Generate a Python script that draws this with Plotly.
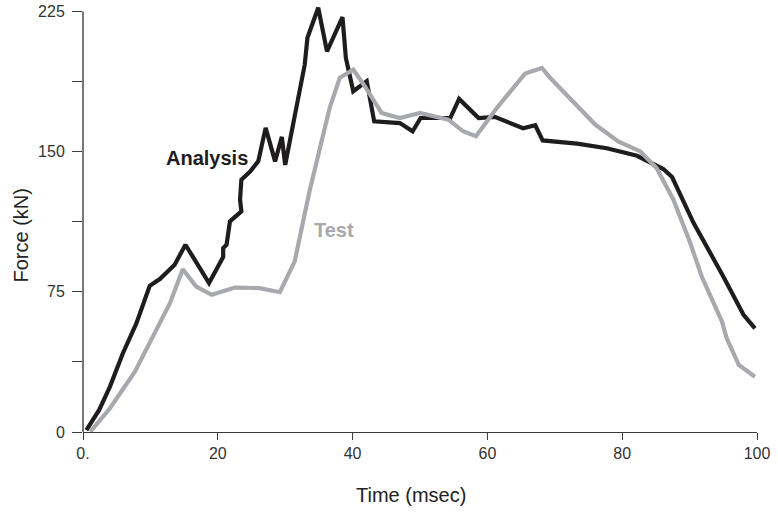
import plotly.graph_objects as go

# ---- data ----
analysis_time = [0.5, 2.4, 4.0, 5.9, 7.9, 9.9, 11.4, 13.6, 15.2, 18.7, 20.8, 20.8, 21.3, 21.8,
                 23.5, 23.3, 23.5, 24.8, 26.0, 27.1, 28.5, 29.5, 30.0, 32.9, 33.3, 34.9, 36.2,
                 38.5, 39.0, 40.1, 42.1, 43.2, 47.0, 48.9, 50.1, 54.5, 55.8, 58.7, 61.1, 63.3,
                 65.3, 67.1, 68.2, 73.3, 77.7, 82.2, 86.1, 87.4, 90.6, 95.0, 98.0, 99.7]
analysis_force = [1.0, 11.8, 24.3, 42.0, 58.0, 78.2, 81.8, 89.5, 100.2, 79.7, 93.6, 98.4, 100.2, 112.7,
                  118.0, 124.3, 135.0, 139.4, 144.8, 162.7, 144.8, 157.9, 142.9, 196.6, 210.9, 227.0, 203.7,
                  222.0, 200.2, 182.3, 187.7, 166.2, 165.3, 160.9, 168.0, 168.0, 178.2, 168.0, 168.6, 165.3,
                  162.5, 164.1, 156.0, 154.3, 151.8, 147.8, 140.7, 136.4, 111.8, 83.2, 62.7, 55.5]

test_time = [1.1, 4.0, 7.7, 11.1, 12.9, 14.8, 16.8, 19.1, 22.5, 26.2, 29.2, 31.4, 33.6, 36.6,
             38.1, 40.1, 41.8, 44.3, 47.0, 50.0, 54.2, 56.4, 58.3, 61.4, 65.6, 68.1, 69.3,
             76.0, 79.4, 82.7, 85.1, 87.6, 90.1, 91.8, 94.8, 95.5, 97.3, 99.7]
test_force = [0.2, 12.7, 32.3, 56.4, 68.9, 87.1, 77.8, 73.4, 77.3, 77.0, 74.8, 91.2, 128.7, 173.4,
              189.5, 193.9, 185.0, 170.7, 168.0, 170.7, 167.1, 160.9, 158.2, 173.4, 191.8, 194.8, 189.5,
              164.5, 155.5, 150.1, 141.3, 124.3, 101.1, 83.2, 59.1, 50.2, 35.9, 29.6]

x_tickvals = [0, 20, 40, 60, 80, 100]
x_ticktext = ["0.", "20", "40", "60", "80", "100"]
y_tickvals = [0, 37.5, 75, 112.5, 150, 187.5, 225]
y_ticktext = ["0", "", "75", "", "150", "", "225"]

BLACK = "#1f1c1d"
GRAY = "#a7a9ac"
AXIS = "#3c3c3c"
FONT = "Liberation Sans"

fig = go.Figure()
fig.add_trace(go.Scatter(x=analysis_time, y=analysis_force, mode="lines",
                         line=dict(color=BLACK, width=4.2), showlegend=False, hoverinfo="skip"))
fig.add_trace(go.Scatter(x=test_time, y=test_force, mode="lines",
                         line=dict(color=GRAY, width=4.2), showlegend=False, hoverinfo="skip"))

fig.update_layout(
    width=778, height=515,
    margin=dict(l=83, r=21, t=4, b=83),
    paper_bgcolor="white", plot_bgcolor="white",
    font=dict(family=FONT, color="#333333"),
    xaxis=dict(range=[0, 100], tickvals=x_tickvals, ticktext=x_ticktext,
               showgrid=False, zeroline=False, showline=True, linecolor=AXIS, linewidth=1.4,
               ticks="outside", ticklen=7, tickwidth=1.4, tickcolor=AXIS,
               tickfont=dict(size=16, family=FONT, color="#333333")),
    yaxis=dict(range=[0, 229], tickvals=y_tickvals, ticktext=y_ticktext,
               showgrid=False, zeroline=False, showline=False,
               ticks="outside", ticklen=10, tickwidth=1.4, tickcolor=AXIS,
               ticklabelstandoff=4,
               tickfont=dict(size=16, family=FONT, color="#333333")),
    shapes=[dict(type="line", xref="paper", yref="y", x0=0, x1=0, y0=0, y1=225,
                 line=dict(color=AXIS, width=1.4))],
    annotations=[
        dict(text="Analysis", xref="x", yref="y", x=18.4, y=146.5, showarrow=False,
             font=dict(size=20, family=FONT, color=BLACK, weight="bold")),
        dict(text="Test", xref="x", yref="y", x=37.2, y=108, showarrow=False,
             font=dict(size=20, family=FONT, color=GRAY, weight="bold")),
        dict(text="Force (kN)", xref="paper", yref="paper", x=-0.112, y=0.458, textangle=-90,
             showarrow=False, font=dict(size=20, family=FONT, color="#222222")),
        dict(text="Time (msec)", xref="paper", yref="paper", x=0.486, y=-0.178,
             showarrow=False, font=dict(size=20, family=FONT, color="#222222")),
    ],
)

fig.write_html("out.html")
